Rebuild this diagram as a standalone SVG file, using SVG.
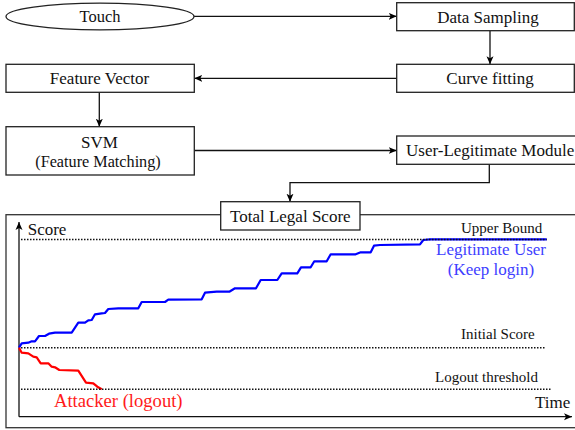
<svg xmlns="http://www.w3.org/2000/svg" width="575" height="430" viewBox="0 0 575 430">
<defs>
<marker id="ah" markerUnits="userSpaceOnUse" markerWidth="9" markerHeight="8" refX="8" refY="4" orient="auto">
<path d="M0,0.5 L8,4 L0,7.5 L2,4 Z" fill="#000"/>
</marker>
<style>
.box{fill:#fff;stroke:#222;stroke-width:1.3}
.t{font-family:"Liberation Serif","Times New Roman",serif;font-size:17px;fill:#111;text-anchor:middle}
.s{font-family:"Liberation Serif","Times New Roman",serif;font-size:15px;fill:#111}
.c{fill:none;stroke:#111;stroke-width:1.3}
.dot{fill:none;stroke:#111;stroke-width:1.5;stroke-dasharray:1.5 1.5}
</style>
</defs>
<rect width="575" height="430" fill="#fff"/>

<g id="chart">
<rect x="6" y="214.7" width="575" height="213" fill="none" stroke="#333" stroke-width="1.3"/>
<line x1="19" y1="416.7" x2="19" y2="222" class="c" marker-end="url(#ah)"/>
<line x1="19" y1="416.7" x2="572" y2="416.7" class="c" marker-end="url(#ah)"/>
<text x="27.7" y="235" class="s" style="font-size:17px">Score</text>
<text x="535" y="408.3" class="s" style="font-size:17px">Time</text>
<polyline fill="none" stroke="#0000ff" stroke-width="2.2" stroke-linejoin="round" points="19,347.7 21.7,343.3 28.3,342.7 31.7,341.3 35,341.3 39,336 45,336 49,333.7 55,332.7 71.7,332.7 78.3,322.7 85,322.7 88.3,320.3 91.7,320 95,314.3 101.7,313.3 105,313 108.3,309 118.3,308.3 138.3,308.3 141.7,302 165,302 168.3,299.7 201.7,299.3 205,292.7 216.7,291.7 229.3,291.7 235,288.3 256,288.3 260.7,280 277.3,280 281.7,273.3 297.3,273.3 301,267.3 310.7,267.3 314.3,261.3 326.7,261.3 330.7,254.3 355.7,254.3 360.7,252.3 370.7,252.3 374,245.7 380,245 420,244.3 423.3,240 430,239.4 546.7,239.4"/>
<polyline fill="none" stroke="#ff0000" stroke-width="2.2" stroke-linejoin="round" points="19,347.7 21.7,352.7 28.3,353.3 33.3,356.7 36.7,357.3 40.7,363.3 48.3,363.3 51.7,366.7 55,367.3 59.3,370 78.3,370.7 86,382.7 93.3,383.3 97.3,386.7 100,388.3 101.7,389.3"/>
<line x1="21" y1="239.4" x2="546.7" y2="239.4" class="dot"/>
<line x1="21" y1="347.7" x2="546" y2="347.7" class="dot"/>
<line x1="21" y1="389.3" x2="550.7" y2="389.3" class="dot"/>
<text x="461" y="233.3" class="s">Upper Bound</text>
<text x="461" y="339.3" class="s">Initial Score</text>
<text x="435" y="381.7" class="s">Logout threshold</text>
<text x="491" y="255" class="t" style="fill:#4040ff">Legitimate User</text>
<text x="491" y="275" class="t" style="fill:#4040ff">(Keep login)</text>
<text x="54" y="406.7" class="s" style="font-size:18.6px;fill:#ff1a1a">Attacker (logout)</text>
</g>

<g id="connectors">
<line x1="193" y1="16.3" x2="396.7" y2="16.3" class="c" marker-end="url(#ah)"/>
<line x1="490" y1="30.7" x2="490" y2="64.3" class="c" marker-end="url(#ah)"/>
<line x1="396.7" y1="78.3" x2="194.3" y2="78.3" class="c" marker-end="url(#ah)"/>
<line x1="99.3" y1="92.3" x2="99.3" y2="126.7" class="c" marker-end="url(#ah)"/>
<line x1="194.3" y1="150.5" x2="396.7" y2="150.5" class="c" marker-end="url(#ah)"/>
<polyline points="489.3,164.3 489.3,182.7 290,182.7 290,201.7" class="c" marker-end="url(#ah)"/>
</g>

<g id="touch">
<ellipse cx="100" cy="16.5" rx="94" ry="13.3" class="box"/>
<text x="100" y="22" class="t" style="font-size:16.5px">Touch</text>
</g>
<g id="data-sampling">
<rect x="396.7" y="2.7" width="177.6" height="28" class="box"/>
<text x="488" y="22.5" class="t">Data Sampling</text>
</g>
<g id="curve-fitting">
<rect x="396.7" y="64.3" width="177.6" height="28" class="box"/>
<text x="490" y="84.3" class="t">Curve fitting</text>
</g>
<g id="feature-vector">
<rect x="6" y="64.3" width="188.3" height="28" class="box"/>
<text x="99.5" y="84.3" class="t">Feature Vector</text>
</g>
<g id="svm">
<rect x="6" y="126.7" width="188.3" height="48.3" class="box"/>
<text x="99.5" y="147.7" class="t">SVM</text>
<text x="98" y="166.5" class="t" style="font-size:16.2px">(Feature Matching)</text>
</g>
<g id="user-legitimate-module">
<rect x="396.7" y="136" width="180" height="28.3" class="box"/>
<text x="406" y="156.3" class="t" style="text-anchor:start">User-Legitimate Module</text>
</g>
<g id="total-legal-score">
<rect x="220.7" y="201.7" width="139.3" height="28.3" class="box"/>
<text x="290.3" y="221.8" class="t">Total Legal Score</text>
</g>
</svg>
